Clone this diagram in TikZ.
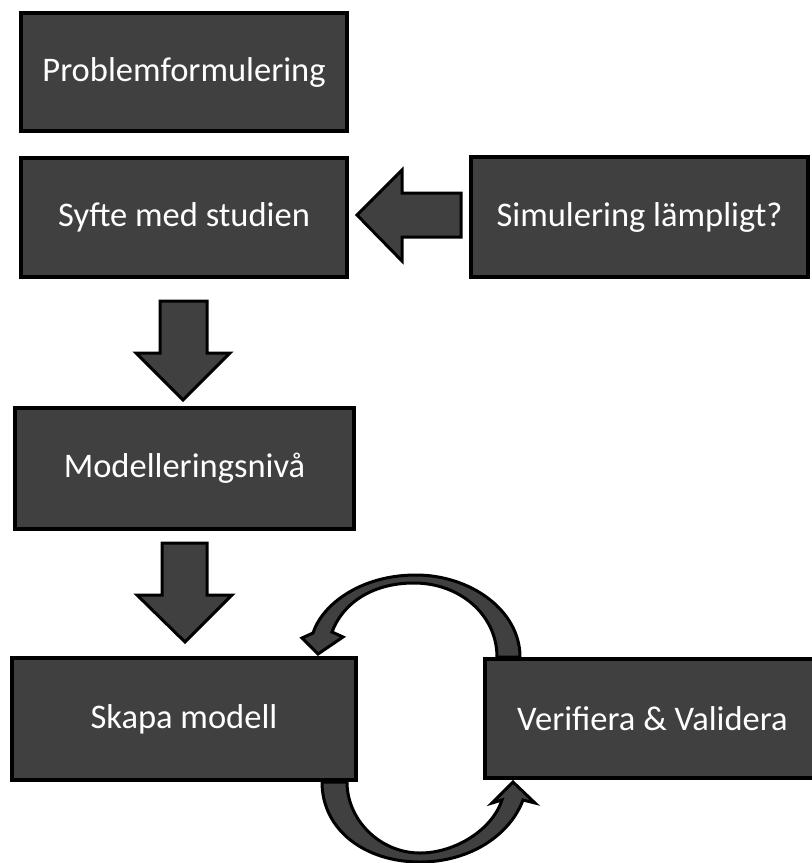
\documentclass[tikz,border=0pt]{standalone}
\usepackage{fontspec}
\setmainfont{Carlito}
\definecolor{boxgray}{HTML}{404040}
\begin{document}
\begin{tikzpicture}[x=1pt,y=-1pt,
  stepbox/.style={draw=black,line width=4pt,fill=boxgray,text=white,
    inner sep=0pt,font=\fontsize{34.5}{40}\selectfont},
  blockarrow/.style={draw=black,line width=3pt,fill=boxgray,line join=miter}]
\useasboundingbox (0,0) rectangle (812,863);
\clip (0,0) rectangle (812,863);

% process steps
\node[stepbox,minimum width=326pt,minimum height=118pt] (prob) at (184,72) {Problemformulering};
\node[stepbox,minimum width=326pt,minimum height=119pt] (syfte) at (184,217.5) {Syfte med studien};
\node[stepbox,minimum width=337pt,minimum height=120pt] (sim) at (639.5,217) {Simulering lämpligt?};
\node[stepbox,minimum width=339pt,minimum height=121pt] (mod) at (184.5,468.5) {Modelleringsnivå};
\node[stepbox,minimum width=344pt,minimum height=122pt] (skapa) at (184,719) {Skapa modell};
\node[stepbox,minimum width=335pt,minimum height=119pt] (ver) at (652.5,718.5) {Verifiera \& Validera};

% block arrow: suitability check feeds the purpose
\draw[blockarrow] (357,215) -- (402,170) -- (402,193) -- (461,193)
  -- (461,237) -- (402,237) -- (402,261) -- cycle;

% block arrows down the main chain
\draw[blockarrow] (160,301) -- (207,301) -- (207,353) -- (230,353)
  -- (183,400) -- (136,353) -- (160,353) -- cycle;
\draw[blockarrow] (162,543) -- (207,543) -- (207,595) -- (232,595)
  -- (185,642) -- (137,595) -- (162,595) -- cycle;

% curved arrow: verification back to the model
\draw[blockarrow] (520,657) .. controls (520,610) and (470,575) .. (416,575)
  .. controls (360,575) and (322,605) .. (313,633)
  -- (302,638) -- (318,654) -- (343,637) -- (332,632)
  .. controls (342,605) and (370,583) .. (414,583)
  .. controls (460,583) and (497,615) .. (497,657) -- cycle;

% curved arrow: model on to verification
\draw[blockarrow] (322,782) .. controls (322,830) and (365,862) .. (420,862)
  .. controls (470,862) and (510,835) .. (523,800)
  -- (535,803) -- (513,782) -- (492,803) -- (502,800)
  .. controls (492,830) and (455,853) .. (420,853)
  .. controls (380,853) and (347,820) .. (347,782) -- cycle;
\end{tikzpicture}
\end{document}
